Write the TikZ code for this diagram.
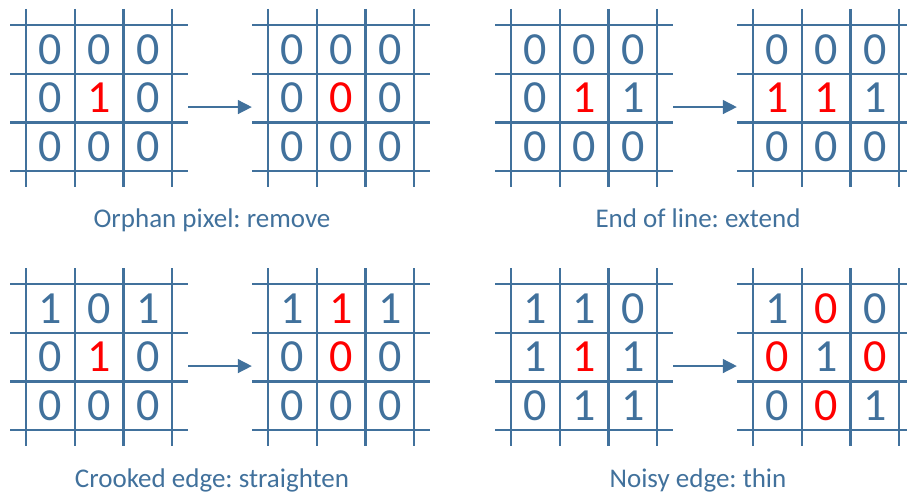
\documentclass[tikz,border=0pt]{standalone}
\usepackage{fontspec}
\setmainfont{Carlito}
\usetikzlibrary{arrows.meta,positioning}
\definecolor{gridblue}{RGB}{65,113,156}
\definecolor{flipred}{RGB}{255,0,0}
\frenchspacing

% a pixel that changes value
\newcommand{\flip}[1]{\textcolor{flipred}{#1}}

\tikzset{
  gridline/.style={gridblue, line width=2.2pt},
  pixel/.style={minimum size=48.7pt, inner sep=0pt, text=gridblue,
    font=\fontsize{46}{46}\selectfont},
  caption/.style={anchor=base, text=gridblue, font=\fontsize{27}{27}\selectfont},
  fliparrow/.style={gridblue, line width=1.5pt, -{Triangle[length=14pt,width=14pt]}}
}

% 3x3 window: #1 name, #2 top-left corner, #3 nine pixel values
\newcommand{\pixwindow}[3]{%
  \begin{scope}[shift={#2}]
    % grid lines
    \foreach \k in {0,...,3} {
      \draw[gridline] (\k*48.7,-16) -- (\k*48.7,162.1);
      \draw[gridline] (-16,\k*48.7) -- (162.1,\k*48.7);
    }
    % pixel values, row by row
    \foreach \v [count=\i from 1] in {#3} {
      \pgfmathtruncatemacro{\prow}{int((\i-1)/3)}
      \pgfmathtruncatemacro{\pcol}{mod(\i-1,3)}
      \node[pixel] (#1-\i) at ({(\pcol+0.5)*48.7},{(\prow+0.5)*48.7}) {\v};
    }
  \end{scope}
}

\begin{document}
\begin{tikzpicture}[x=1pt, y=-1pt]
    \useasboundingbox (0,0) rectangle (907,495);

    % Orphan pixel
    \pixwindow{a}{(26,25)}{0,0,0,0,\flip{1},0,0,0,0}
    \pixwindow{b}{(268,25)}{0,0,0,0,\flip{0},0,0,0,0}
    \draw[fliparrow] ([xshift=16pt,yshift=-9pt]a-6.east) -- ([xshift=-16pt,yshift=-9pt]b-4.west);
    \node[caption] (capa) at (212,227) {Orphan pixel: remove};

    % End of line
    \pixwindow{c}{(511,25)}{0,0,0,0,\flip{1},1,0,0,0}
    \pixwindow{d}{(753,25)}{0,0,0,\flip{1},\flip{1},1,0,0,0}
    \draw[fliparrow] ([xshift=16pt,yshift=-9pt]c-6.east) -- ([xshift=-16pt,yshift=-9pt]d-4.west);
    \node[caption] (capc) at (698,227) {End of line: extend};

    % Crooked edge
    \pixwindow{e}{(26,284)}{1,0,1,0,\flip{1},0,0,0,0}
    \pixwindow{f}{(268,284)}{1,\flip{1},1,0,\flip{0},0,0,0,0}
    \draw[fliparrow] ([xshift=16pt,yshift=-9pt]e-6.east) -- ([xshift=-16pt,yshift=-9pt]f-4.west);
    \node[caption] (cape) at (212,487) {Crooked edge: straighten};

    % Noisy edge
    \pixwindow{g}{(511,284)}{1,1,0,1,\flip{1},1,0,1,1}
    \pixwindow{h}{(753,284)}{1,\flip{0},0,\flip{0},1,\flip{0},0,\flip{0},1}
    \draw[fliparrow] ([xshift=16pt,yshift=-9pt]g-6.east) -- ([xshift=-16pt,yshift=-9pt]h-4.west);
    \node[caption] (capg) at (698,487) {Noisy edge: thin};
\end{tikzpicture}
\end{document}
